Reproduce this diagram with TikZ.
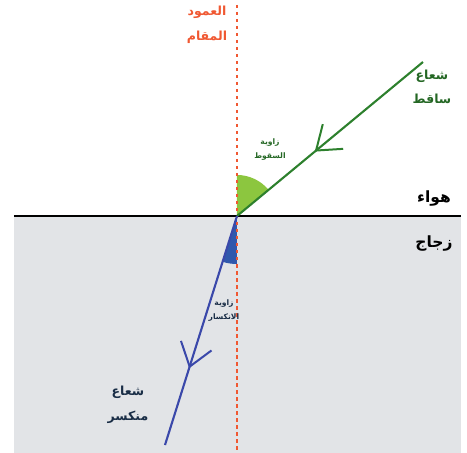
\documentclass[tikz,border=0pt]{standalone}
\usepackage{fontspec}
\newfontfamily\arabicfont[Script=Arabic]{DejaVu Sans}
\TeXXeTstate=1
\usepackage{tikz}
\usetikzlibrary{arrows.meta, decorations.markings}

\definecolor{normalred}{RGB}{240,88,50}
\definecolor{raygreen}{RGB}{45,128,45}
\definecolor{anglegreen}{RGB}{140,198,63}
\definecolor{rayblue}{RGB}{58,72,170}
\definecolor{angleblue}{RGB}{48,88,172}
\definecolor{glassgray}{RGB}{226,228,231}
\definecolor{textnavy}{RGB}{25,45,70}

\tikzset{
  lbl/.style={font=\arabicfont\bfseries\fontsize{12.5}{24.5}\selectfont, align=center, inner sep=0pt},
  small lbl/.style={font=\arabicfont\bfseries\fontsize{7.6}{14}\selectfont, align=center, inner sep=0pt},
  medium/.style={font=\arabicfont\bfseries\fontsize{15.5}{18}\selectfont, inner sep=0pt},
  ray/.style={line width=2.1pt, postaction=decorate},
  barb/.style={decoration={markings, mark=at position #1 with {\arrow[line width=2pt]{Straight Barb[length=22pt, width=32pt]}}}}
}

\begin{document}
\begin{tikzpicture}[x=1pt, y=1pt]
\useasboundingbox (-237,-237) rectangle (230,216);
% glass
\fill[glassgray] (-223,-237) rectangle (224,0);
\coordinate (O) at (0,0);
\coordinate (in) at (186,154);
\coordinate (out) at (-72,-229);
\coordinate (ntop) at (0,211);
\coordinate (nbot) at (0,-237);
\coordinate (left) at (-223,0);
\coordinate (right) at (224,0);
% angles
\fill[anglegreen] (O) -- (39.6:41) arc[start angle=39.6, end angle=90, radius=41] -- cycle;
\fill[angleblue] (O) -- (252.5:48) arc[start angle=252.5, end angle=270, radius=48] -- cycle;
% normal and surface
\draw[normalred, line width=2.6pt, dash pattern=on 3.5pt off 3.5pt] (ntop) -- (nbot);
\draw[line width=2.2pt] (left) -- (right);
% rays
\draw[ray, raygreen, barb=0.582] (in) -- (O);
\draw[ray, rayblue, barb=0.665] (O) -- (out);
% labels
\node[lbl, text=normalred] (normlbl) at (-30,191) {\beginR العمود\endR\\\beginR المقام\endR};
\node[lbl, text=raygreen!80!black] (inlbl) at (195,129) {\beginR شعاع\endR\\\beginR ساقط\endR};
\node[small lbl, text=raygreen!80!black] (inang) at (33,66) {\beginR زاوية\endR\\\beginR السقوط\endR};
\node[medium] (air) at (197,17) {\beginR هواء\endR};
\node[medium] (glass) at (197,-28) {\beginR زجاج\endR};
\node[small lbl, text=textnavy] (outang) at (-13,-95) {\beginR زاوية\endR\\\beginR الانكسار\endR};
\node[lbl, text=textnavy] (outlbl) at (-109,-189) {\beginR شعاع\endR\\\beginR منكسر\endR};
\end{tikzpicture}
\end{document}
